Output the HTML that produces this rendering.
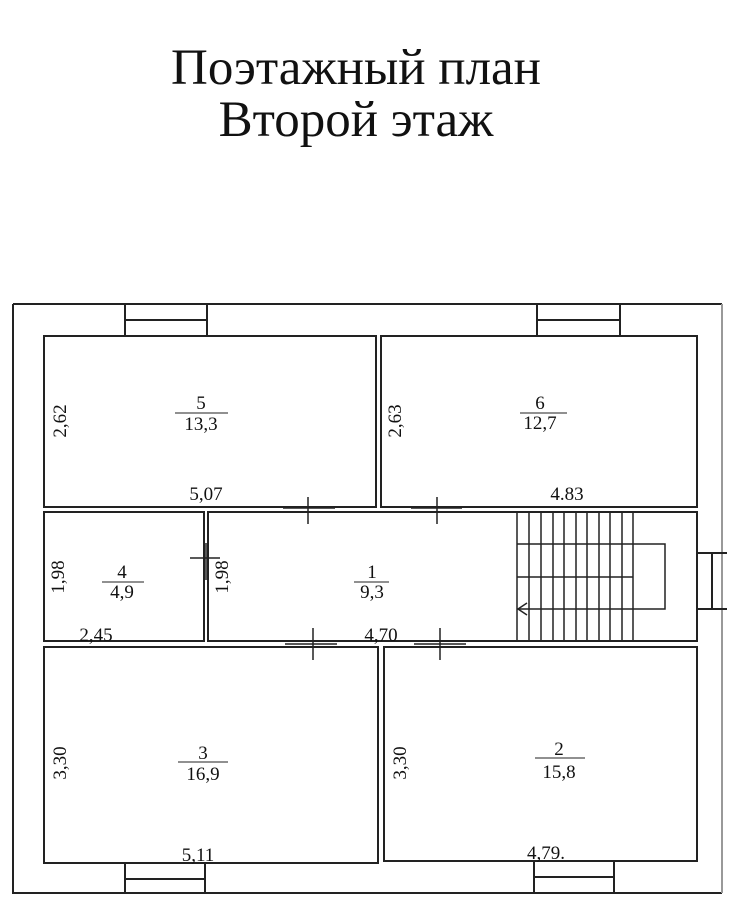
<!DOCTYPE html>
<html><head><meta charset="utf-8"><style>
html,body{margin:0;padding:0;background:#fff;}
svg{display:block}
</style></head><body>
<svg width="734" height="910" viewBox="0 0 734 910" xmlns="http://www.w3.org/2000/svg">
<rect width="734" height="910" fill="#fff"/>
<g font-family="Liberation Serif, serif" fill="#111" text-anchor="middle">
<text x="356" y="84" font-size="51">Поэтажный план</text>
<text x="356" y="136" font-size="51">Второй этаж</text>
</g>
<g stroke="#222" stroke-width="2" fill="none">
<path d="M13 304 H722 M13 304 V893 H722"/>
<line x1="722" y1="304" x2="722" y2="893" stroke="#999"/>
<path d="M125 304 V336 M207 304 V336 M125 320 H207"/>
<path d="M537 304 V336 M620 304 V336 M537 320 H620"/>
<path d="M125 863 V893 M205 863 V893 M125 879 H205"/>
<path d="M534 862 V893 M614 862 V893 M534 877 H614"/>
<path d="M697 553 H727 M697 609 H727 M712 553 V609"/>
<rect x="44" y="336" width="332" height="171"/>
<rect x="381" y="336" width="316" height="171"/>
<rect x="44" y="512" width="160" height="129"/>
<rect x="208" y="512" width="489" height="129"/>
<rect x="44" y="647" width="334" height="216"/>
<rect x="384" y="647" width="313" height="214"/>
</g>
<g stroke="#222" stroke-width="1.5" fill="none">
<path d="M308 497 V524 M283 508 H335"/>
<path d="M437 497 V524 M411 508 H462"/>
<path d="M190 558 H220 M206 543 V580"/>
<path d="M313 628 V660 M285 644 H337"/>
<path d="M440 628 V660 M414 644 H466"/>
<path d="M517 512 V641 M529 512 V641 M541 512 V641 M553 512 V641 M564 512 V641 M576 512 V641 M587 512 V641 M599 512 V641 M610 512 V641 M622 512 V641 M633 512 V641"/>
<path d="M517 544 H665 V609 H517 M517 577 H633"/>
<path d="M527 603 L518 609 L527 615"/>
</g>
<g font-family="Liberation Serif, serif" fill="#111" font-size="19" text-anchor="middle">
<text x="201" y="409">5</text><text x="201" y="430">13,3</text>
<line x1="175" y1="413" x2="228" y2="413" stroke="#222"/>
<text x="540" y="409">6</text><text x="540" y="429">12,7</text>
<line x1="520" y1="413" x2="567" y2="413" stroke="#222"/>
<text x="122" y="578">4</text><text x="122" y="598">4,9</text>
<line x1="102" y1="582" x2="144" y2="582" stroke="#222"/>
<text x="372" y="578">1</text><text x="372" y="598">9,3</text>
<line x1="354" y1="582" x2="389" y2="582" stroke="#222"/>
<text x="203" y="759">3</text><text x="203" y="780">16,9</text>
<line x1="178" y1="762" x2="228" y2="762" stroke="#222"/>
<text x="559" y="755">2</text><text x="559" y="778">15,8</text>
<line x1="535" y1="758" x2="585" y2="758" stroke="#222"/>
<text x="206" y="500">5,07</text>
<text x="567" y="500">4.83</text>
<text x="96" y="641">2,45</text>
<text x="381" y="641">4,70</text>
<text x="198" y="861">5,11</text>
<text x="546" y="859">4,79.</text>
<text transform="translate(66 421) rotate(-90)">2,62</text>
<text transform="translate(401 421) rotate(-90)">2,63</text>
<text transform="translate(64 577) rotate(-90)">1,98</text>
<text transform="translate(228 577) rotate(-90)">1,98</text>
<text transform="translate(66 763) rotate(-90)">3,30</text>
<text transform="translate(406 763) rotate(-90)">3,30</text>
</g>
</svg>
</body></html>
